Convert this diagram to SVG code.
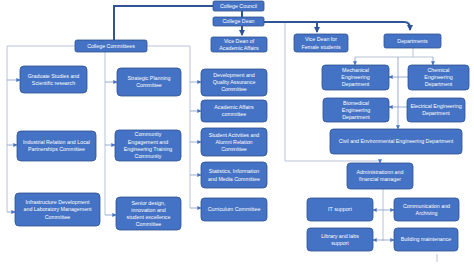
<svg xmlns="http://www.w3.org/2000/svg" width="474" height="266" viewBox="0 0 474 266">
<defs>
<style>
.b{fill:#4472C4;stroke:#2F528F;stroke-width:0.8}
.t{font-family:"Liberation Sans",Arial,sans-serif;font-size:5.3px;fill:#FFFFFF;text-anchor:middle}
.k{fill:none;stroke:#2F5597;stroke-width:2}
.l{fill:none;stroke:#B8C4D8;stroke-width:1}
.a{fill:none;stroke:#8EA4CC;stroke-width:0.9}
</style>
<marker id="ah" viewBox="0 0 6 6" refX="5.5" refY="3" markerWidth="4" markerHeight="4" markerUnits="userSpaceOnUse" orient="auto-start-reverse">
<path d="M0,0 L6,3 L0,6 z" fill="#4472C4"/>
</marker>
<marker id="ahk" viewBox="0 0 6 6" refX="5" refY="3" markerWidth="6" markerHeight="6" markerUnits="userSpaceOnUse" orient="auto">
<path d="M0,0 L6,3 L0,6 z" fill="#2F5597"/>
</marker>
</defs>
<rect width="474" height="266" fill="#FFFFFF"/>
<g id="connectors">
<path class="k" d="M213,6 H114 V40"/>
<path class="k" d="M264,22 H404 Q410,22 410,28 V30" marker-end="url(#ahk)"/>
<path class="k" stroke-width="1.5" d="M242,11 V17"/>
<path class="k" stroke-width="1.5" d="M242,26 V35" marker-end="url(#ahk)"/>
<path class="k" stroke-width="1.5" d="M317,22 V32" marker-end="url(#ahk)"/>
<path class="l" d="M7,212 V46 H190 V208"/>
<path class="l" d="M105,46 V215"/>
<path class="a" d="M7,80 H20" marker-end="url(#ah)"/>
<path class="a" d="M7,145 H17" marker-end="url(#ah)"/>
<path class="a" d="M7,212 H15" marker-end="url(#ah)"/>
<path class="a" d="M105,82 H117" marker-end="url(#ah)"/>
<path class="a" d="M105,145 H115" marker-end="url(#ah)"/>
<path class="a" d="M105,215 H116" marker-end="url(#ah)"/>
<path class="a" d="M190,82 H201" marker-end="url(#ah)"/>
<path class="a" d="M190,111 H201" marker-end="url(#ah)"/>
<path class="a" d="M190,142 H201" marker-end="url(#ah)"/>
<path class="a" d="M190,175 H201" marker-end="url(#ah)"/>
<path class="a" d="M190,208 H201" marker-end="url(#ah)"/>
<path class="l" d="M285,23 V161 H380"/>
<path class="a" d="M380,161 V163" marker-end="url(#ah)"/>
<path class="l" d="M413,48 V57 M355,57 H433"/>
<path class="a" d="M355,57 V65" marker-end="url(#ah)"/>
<path class="a" d="M433,57 V65" marker-end="url(#ah)"/>
<path class="a" d="M398,57 V129" marker-end="url(#ah)"/>
<path class="a" d="M408,77 H389" marker-end="url(#ah)"/>
<path class="a" d="M407,107 H389" marker-end="url(#ah)"/>
<path class="l" d="M383,189 V241"/>
<path class="a" d="M373,210 H394" marker-start="url(#ah)" marker-end="url(#ah)"/>
<path class="a" d="M373,240 H394" marker-start="url(#ah)" marker-end="url(#ah)"/>
<path class="l" d="M437,254 V262"/>
</g>
<g id="college-council"><rect class="b" x="213" y="1" width="51" height="10" rx="1.5"/><text class="t" x="238.5" y="7.9">College Council</text></g>
<g id="college-dean"><rect class="b" x="213" y="17" width="51" height="9" rx="1.5"/><text class="t" x="238.5" y="23.4">College Dean</text></g>
<g id="vice-dean-academic"><rect class="b" x="211" y="37" width="56" height="15" rx="2"/><text class="t" x="239" y="43.2">Vice Dean of</text><text class="t" x="239" y="50.2">Academic Affairs</text></g>
<g id="college-committees"><rect class="b" x="75" y="40" width="72" height="12" rx="2"/><text class="t" x="111" y="47.9">College Committees</text></g>
<g id="vice-dean-female"><rect class="b" x="294" y="34" width="54" height="18" rx="2.5"/><text class="t" x="321" y="41.3">Vice Dean for</text><text class="t" x="321" y="48.6">Female students</text></g>
<g id="departments"><rect class="b" x="384" y="34" width="57" height="14" rx="2"/><text class="t" x="412.5" y="42.9">Departments</text></g>
<g id="graduate-studies"><rect class="b" x="20" y="66" width="67" height="27" rx="4"/><text class="t" x="53.5" y="78">Graduate Studies and</text><text class="t" x="53.5" y="85.3">Scientific research</text></g>
<g id="strategic-planning"><rect class="b" x="117" y="68" width="64" height="28" rx="4"/><text class="t" x="149" y="80.4">Strategic Planning</text><text class="t" x="149" y="87.4">Committee</text></g>
<g id="development-quality"><rect class="b" x="201" y="69" width="66" height="27" rx="4"/><text class="t" x="234" y="77.4">Development and</text><text class="t" x="234" y="84.4">Quality Assurance</text><text class="t" x="234" y="91.4">Committee</text></g>
<g id="academic-affairs"><rect class="b" x="201" y="100" width="66" height="22" rx="3.5"/><text class="t" x="234" y="109.4">Academic Affairs</text><text class="t" x="234" y="116.4">committee</text></g>
<g id="industrial-relation"><rect class="b" x="17" y="131" width="79" height="30" rx="4"/><text class="t" x="56.5" y="144.4">Industrial Relation and Local</text><text class="t" x="56.5" y="151.4">Partnerships Committee</text></g>
<g id="community-engagement"><rect class="b" x="115" y="130" width="66" height="31" rx="4"/><text class="t" x="148" y="136.3">Community</text><text class="t" x="148" y="143.6">Engagement and</text><text class="t" x="148" y="150.9">Engineering Training</text><text class="t" x="148" y="158.2">Community</text></g>
<g id="student-activities"><rect class="b" x="201" y="128" width="66" height="28" rx="4"/><text class="t" x="234" y="136.9">Student Activities and</text><text class="t" x="234" y="144.1">Alumni Relation</text><text class="t" x="234" y="151.3">Committee</text></g>
<g id="statistics"><rect class="b" x="201" y="162" width="66" height="26" rx="4"/><text class="t" x="234" y="173.3">Statistics, Information</text><text class="t" x="234" y="180.5">and Media Committee</text></g>
<g id="infrastructure"><rect class="b" x="15" y="193" width="85" height="33" rx="4"/><text class="t" x="57.5" y="204.4">Infrastructure Development</text><text class="t" x="57.5" y="211.4">and Laboratory Management</text><text class="t" x="57.5" y="218.6">Committee</text></g>
<g id="senior-design"><rect class="b" x="116" y="197" width="65" height="33" rx="4"/><text class="t" x="148.5" y="205">Senior design,</text><text class="t" x="148.5" y="212">innovation and</text><text class="t" x="148.5" y="219">student excellence</text><text class="t" x="148.5" y="226">Committee</text></g>
<g id="curriculum"><rect class="b" x="201" y="198" width="66" height="23" rx="3.5"/><text class="t" x="234" y="211.4">Curriculum Committee</text></g>
<g id="mechanical"><rect class="b" x="322" y="65" width="67" height="25" rx="3.5"/><text class="t" x="355.5" y="72.4">Mechanical</text><text class="t" x="355.5" y="79.4">Engineering</text><text class="t" x="355.5" y="86.4">Department</text></g>
<g id="chemical"><rect class="b" x="408" y="65" width="61" height="25" rx="3.5"/><text class="t" x="438.5" y="72.4">Chemical</text><text class="t" x="438.5" y="79.4">Engineering</text><text class="t" x="438.5" y="86.4">Department</text></g>
<g id="biomedical"><rect class="b" x="323" y="98" width="66" height="24" rx="3.5"/><text class="t" x="356" y="104.9">Biomedical</text><text class="t" x="356" y="111.9">Engineering</text><text class="t" x="356" y="118.9">Department</text></g>
<g id="electrical"><rect class="b" x="407" y="98" width="58" height="24" rx="3.5"/><text class="t" x="436" y="108.4">Electrical Engineering</text><text class="t" x="436" y="115.4">Department</text></g>
<g id="civil"><rect class="b" x="330" y="129" width="132" height="25" rx="3.5"/><text class="t" x="396" y="143.4">Civil and Environmental Engineering Department</text></g>
<g id="administration"><rect class="b" x="347" y="163" width="66" height="26" rx="3.5"/><text class="t" x="380" y="174.4">Administrationn and</text><text class="t" x="380" y="181.4">financial  manager</text></g>
<g id="it-support"><rect class="b" x="307" y="198" width="66" height="23" rx="3.5"/><text class="t" x="340" y="211.4">IT support</text></g>
<g id="communication"><rect class="b" x="394" y="198" width="65" height="23" rx="3.5"/><text class="t" x="426.5" y="207.9">Communication and</text><text class="t" x="426.5" y="214.9">Archiving</text></g>
<g id="library"><rect class="b" x="307" y="228" width="66" height="23" rx="3.5"/><text class="t" x="340" y="237.9">Library and labs</text><text class="t" x="340" y="244.9">support</text></g>
<g id="building-maintenance"><rect class="b" x="394" y="228" width="64" height="23" rx="3.5"/><text class="t" x="426" y="241.4">Building maintenance</text></g>
</svg>
